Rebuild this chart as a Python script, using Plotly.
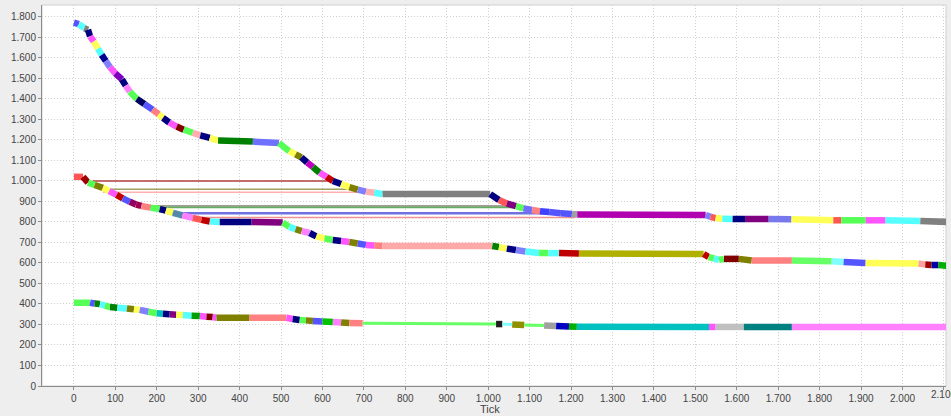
import plotly.graph_objects as go

# ---------------- data ----------------
# Upper curve: knots (x = tick, y = value) and colour of each segment between knots
a_x = [0, 12, 25, 34, 39, 48, 58, 67, 77, 87, 100, 116, 125, 135, 152, 170, 190, 205, 215, 230,
       248, 265, 287, 305, 328, 348, 432, 495, 520, 535, 549, 563, 577, 593, 610, 625, 645, 665,
       685, 705, 725, 745, 1005, 1026, 1045, 1067, 1085, 1106, 1125, 1147, 1175, 1202, 1215,
       1525, 1537, 1549, 1565, 1590, 1620, 1677, 1732, 1833, 1852, 1911, 1959, 2043, 2110]
a_y = [1772, 1765, 1745, 1737, 1705, 1680, 1645, 1615, 1585, 1555, 1525, 1495, 1465, 1435, 1400,
       1375, 1348, 1325, 1307, 1285, 1265, 1250, 1235, 1222, 1210, 1197, 1192, 1185, 1145, 1130,
       1115, 1090, 1068, 1040, 1020, 1000, 985, 970, 958, 948, 942, 936, 936, 907, 890, 877, 866,
       858, 852, 848, 843, 839, 836, 834, 825, 819, 816, 815, 814, 815, 813, 808, 808, 808, 808,
       805, 800]
a_col = ["#5555ff", "#55ffff", "#808080", "#000080", "#ff55ff", "#ffff55", "#55ffff", "#000090",
         "#8080ff", "#ff55ff", "#8000c0", "#000080", "#ff80ff", "#55ff55", "#000060", "#5555ff",
         "#ff8080", "#ffff55", "#000080", "#ff55ff", "#800000", "#55ff55", "#ffafaf", "#000080",
         "#ffff55", "#008000", "#7070ff", "#55ff55", "#ffff55", "#808000", "#000080", "#c000c0",
         "#008000", "#ff55ff", "#c00000", "#000080", "#ffff55", "#808000", "#8080ff", "#ffafaf",
         "#55ffff", "#808080", "#000080", "#ff5555", "#800080", "#55ff55", "#7070ff", "#ff8080",
         "#4040ff", "#5555ff", "#5555ff", "#a0a0a0", "#b000b0", "#8080ff", "#ff5555", "#ffff55",
         "#55ffff", "#000080", "#800080", "#7777ee", "#ffff55", "#ff5555", "#55ff55", "#ff55ff",
         "#55ffff", "#808080"]

# Middle curve
b_x = [0, 22, 34, 50, 70, 85, 103, 118, 135, 150, 163, 185, 207, 222, 239, 262, 287, 308, 328,
       352, 429, 504, 520, 535, 550, 569, 585, 605, 625, 645, 665, 685, 705, 725, 745, 1010, 1026,
       1045, 1067, 1090, 1123, 1145, 1171, 1219, 1520, 1532, 1545, 1557, 1569, 1605, 1636, 1733,
       1829, 1858, 1911, 2039, 2055, 2070, 2087, 2110]
b_y = [1020, 1020, 992, 980, 966, 950, 932, 915, 898, 885, 878, 870, 863, 855, 844, 832, 820, 810,
       802, 800, 800, 797, 776, 765, 755, 746, 730, 720, 712, 707, 702, 695, 688, 685, 683, 683,
       678, 670, 663, 656, 649, 648, 648, 646, 644, 629, 622, 615, 620, 620, 612, 612, 608, 605,
       600, 597, 592, 590, 590, 585]
b_col = ["#ff5555", "#a00000", "#55ff55", "#808000", "#ffff55", "#ff55ff", "#c00000", "#5555ff",
         "#900060", "#a00050", "#ff8080", "#55ff55", "#000080", "#ffff55", "#5588aa", "#ff80ff",
         "#ff5555", "#c00000", "#55ffff", "#000080", "#800080", "#55ff55", "#55ffff", "#808000",
         "#ff80ff", "#000080", "#ffff55", "#55ff55", "#000080", "#ff55ff", "#808000", "#5555ff",
         "#ff55ff", "#ff8080", "#ffa8a8", "#008000", "#ffff55", "#000080", "#8080ff", "#55ffff",
         "#55ff55", "#55ffff", "#c00000", "#b0b000", "#c00000", "#55ff55", "#55ffff", "#55ff55",
         "#800000", "#808000", "#ff8080", "#66ff66", "#80ffff", "#5555ff", "#ffff55", "#ffa0a0",
         "#a00000", "#0000a0", "#00b000"]

# Lower curve
c_x = [0, 39, 50, 63, 75, 87, 105, 128, 145, 159, 180, 200, 215, 231, 247, 263, 284, 304, 320,
       335, 344, 424, 513, 528, 545, 560, 577, 600, 625, 645, 665, 697, 1019, 1034, 1058, 1087,
       1135, 1164, 1195, 1214, 1533, 1549, 1617, 1733, 2110]
c_y = [406, 406, 402, 400, 392, 385, 382, 378, 374, 371, 362, 355, 352, 350, 348, 346, 343, 341,
       338, 336, 333, 333, 333, 327, 322, 320, 317, 314, 312, 310, 307, 306, 302, 302, 300, 297,
       295, 292, 290, 289, 288, 288, 288, 288, 288]
c_col = ["#55ff55", "#5555ff", "#008000", "#55ffff", "#55ff55", "#008000", "#55ffff", "#808000",
         "#ffff55", "#8080ff", "#55ff55", "#00c0c0", "#000080", "#800080", "#ffff55", "#55ffff",
         "#00a000", "#ff55ff", "#800000", "#ff55ff", "#808000", "#ff8080", "#ff55ff", "#000080",
         "#55ff55", "#808000", "#5555ff", "#00c000", "#ff80ff", "#808000", "#ff8080", "#66ff66",
         "#202020", "#80ffff", "#909000", "#66ff66", "#a0a0a0", "#0000c0", "#00b000", "#00c0c0",
         "#ff55ff", "#c0c0c0", "#008080", "#ff80ff"]
c_thin = [697, 1034, 1087]  # segment start ticks drawn as thin lines

# Thin horizontal lines
h_y = [1000, 960, 945, 878, 870, 842, 822]
h_x0 = [45, 60, 70, 165, 175, 225, 255]
h_x1 = [620, 690, 745, 1085, 1085, 1210, 1210]
h_col = ["#b04040", "#a0a060", "#ffb0b0", "#808070", "#60b060", "#7070e0", "#f09090"]

x_ticks = list(range(0, 2001, 100))
x_last_tick = 2100
y_ticks = list(range(0, 1801, 100))

FONT = "Liberation Sans, Arial, sans-serif"

# ---------------- figure ----------------
fig = go.Figure()

for y, x0, x1, col in zip(h_y, h_x0, h_x1, h_col):
    fig.add_trace(go.Scatter(x=[x0, x1], y=[y, y], mode="lines",
                             line=dict(color=col, width=2.5 if col == "#7070e0" else 1.5),
                             hoverinfo="skip", showlegend=False))


def add_curve(xs, ys, cols, thin=()):
    for i, col in enumerate(cols):
        w = 3 if xs[i] in thin else 6.5
        fig.add_trace(go.Scatter(x=[xs[i], xs[i + 1]], y=[ys[i], ys[i + 1]], mode="lines",
                                 line=dict(color=col, width=w),
                                 hoverinfo="skip", showlegend=False))


add_curve(c_x, c_y, c_col, c_thin)
add_curve(b_x, b_y, b_col)
add_curve(a_x, a_y, a_col)

axis_common = dict(showgrid=True, gridcolor="#d0d0d0", griddash="1px,2px", gridwidth=1,
                   zeroline=False, showline=True, linecolor="#8c8c8c", linewidth=1,
                   ticks="outside", ticklen=3, tickcolor="#8c8c8c",
                   tickfont=dict(family=FONT, size=10, color="#444444"),
                   tickformat=",d")

fig.update_layout(
    width=951, height=416,
    margin=dict(l=42, r=5, t=5, b=30),
    paper_bgcolor="#eeeeee", plot_bgcolor="#ffffff",
    separators=",.",
    xaxis=dict(range=[-77, 2105], tickvals=x_ticks + [x_last_tick], automargin=False, **axis_common),
    yaxis=dict(range=[0, 1858], tickvals=y_ticks, automargin=False, **axis_common),
    shapes=[dict(type="rect", xref="paper", yref="paper", x0=0, x1=1, y0=0, y1=1,
                 line=dict(color="#d0d0d0", width=1), layer="below")],
    annotations=[
        dict(text="Tick", xref="paper", yref="paper", x=0.496, y=-0.06,
             xanchor="center", yanchor="middle", showarrow=False, borderpad=0,
             font=dict(family=FONT, size=11, color="#444444")),
        dict(text=f"{x_last_tick:,}".replace(",", "."), xref="x", yref="paper", x=x_last_tick,
             y=-0.022, xanchor="center", yanchor="middle", showarrow=False,
             font=dict(family=FONT, size=10, color="#444444")),
    ],
)

fig.write_html("out.html", config={"displayModeBar": False},
               post_script="document.body.style.margin='0px';document.body.style.background='#eeeeee';")
